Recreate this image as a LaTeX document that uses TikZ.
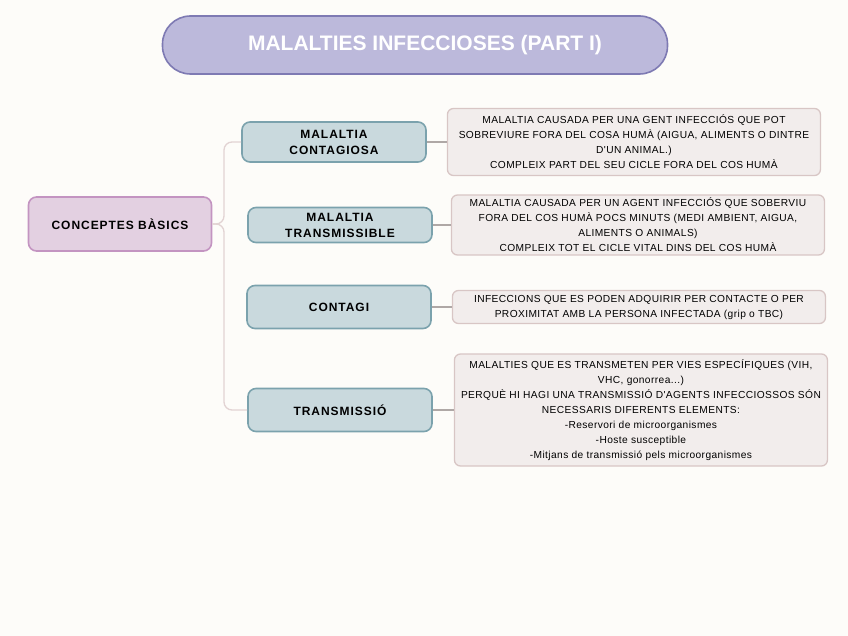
\documentclass[tikz,border=0pt]{standalone}
\usepackage{fontspec}
\setmainfont{Liberation Sans}
\newfontfamily\labelfont{Liberation Sans}[LetterSpace=8]
\newfontfamily\descfont{Liberation Sans}[LetterSpace=4]
\usepackage{tikz}
\usetikzlibrary{positioning}
\definecolor{paper}{HTML}{FDFCF9}
\definecolor{titlefill}{HTML}{BCB9DB}
\definecolor{titleline}{HTML}{7E7AB3}
\definecolor{rootfill}{HTML}{E3D0E1}
\definecolor{rootline}{HTML}{C394C1}
\definecolor{childfill}{HTML}{C9D9DD}
\definecolor{childline}{HTML}{7BA2AD}
\definecolor{descfill}{HTML}{F2EDEC}
\definecolor{descline}{HTML}{D8C6C5}
\definecolor{branch}{HTML}{E2D3D3}
\definecolor{twig}{HTML}{AFA8A6}

\begin{document}
\begin{tikzpicture}[
    x=1pt, y=-1pt,
    node distance=20pt,
    block/.style={draw, line width=1.6pt, align=center, inner sep=2pt},
    tblock/.style={block, fill=titlefill, draw=titleline, rounded corners=28pt, minimum width=505pt, minimum height=58pt, text=white, font=\fontsize{21}{24}\selectfont\bfseries},
    rblock/.style={block, fill=rootfill, draw=rootline, rounded corners=8pt, minimum width=183pt, minimum height=54pt, font=\labelfont\fontsize{12}{16}\selectfont\bfseries},
    cblock/.style={block, fill=childfill, draw=childline, rounded corners=8pt, minimum width=184pt, minimum height=42pt, font=\labelfont\fontsize{12}{16}\selectfont\bfseries},
    dblock/.style={block, line width=1.3pt, fill=descfill, draw=descline, rounded corners=6pt, minimum width=373pt, font=\descfont\fontsize{10.2}{15}\selectfont},
    conn/.style={line width=1.3pt, draw=branch, rounded corners=8pt},
    twig/.style={line width=1.3pt, draw=twig},
]
\useasboundingbox[fill=paper] (0,0) rectangle (848,636);

% Title
\node[tblock] (title) at (415,45) {\hspace*{20pt}MALALTIES INFECCIOSES (PART I)};

% Root
\node[rblock] (root) at (120,224) {CONCEPTES BÀSICS};

% Concepts
\node[cblock, minimum height=40pt] (contagiosa) at (334,142) {MALALTIA\\CONTAGIOSA};
\node[cblock, minimum height=35pt] (transmissible) at (340,225) {MALALTIA\\TRANSMISSIBLE};
\node[cblock, minimum height=43pt] (contagi) at (339,307) {CONTAGI};
\node[cblock, minimum height=43pt] (transmissio) at (340,410) {TRANSMISSIÓ};

% Descriptions
\node[dblock, minimum height=67pt, right=of contagiosa] (desc_contagiosa) {MALALTIA CAUSADA PER UNA GENT INFECCIÓS QUE POT\\SOBREVIURE FORA DEL COSA HUMÀ (AIGUA, ALIMENTS O DINTRE\\D'UN ANIMAL.)\\COMPLEIX PART DEL SEU CICLE FORA DEL COS HUMÀ};
\node[dblock, minimum height=60pt, right=18pt of transmissible] (desc_transmissible) {MALALTIA CAUSADA PER UN AGENT INFECCIÓS QUE SOBERVIU\\FORA DEL COS HUMÀ POCS MINUTS (MEDI AMBIENT, AIGUA,\\ALIMENTS O ANIMALS)\\COMPLEIX TOT EL CICLE VITAL DINS DEL COS HUMÀ};
\node[dblock, minimum height=33pt, right=of contagi] (desc_contagi) {INFECCIONS QUE ES PODEN ADQUIRIR PER CONTACTE O PER\\PROXIMITAT AMB LA PERSONA INFECTADA (grip o TBC)};
\node[dblock, minimum height=112pt, right=21pt of transmissio] (desc_transmissio) {MALALTIES QUE ES TRANSMETEN PER VIES ESPECÍFIQUES (VIH,\\VHC, gonorrea...)\\PERQUÈ HI HAGI UNA TRANSMISSIÓ D'AGENTS INFECCIOSSOS SÓN\\NECESSARIS DIFERENTS ELEMENTS:\\-Reservori de microorganismes\\-Hoste susceptible\\-Mitjans de transmissió pels microorganismes};

% Branches
\coordinate (fork) at (224,224);
\draw[conn] (root.east) -- (fork) |- (contagiosa.west);
\draw[conn] (root.east) -- (fork) |- (transmissio.west);

\draw[twig] (contagiosa) -- (desc_contagiosa);
\draw[twig] (transmissible) -- (desc_transmissible);
\draw[twig] (contagi) -- (desc_contagi);
\draw[twig] (transmissio) -- (desc_transmissio);
\end{tikzpicture}
\end{document}
